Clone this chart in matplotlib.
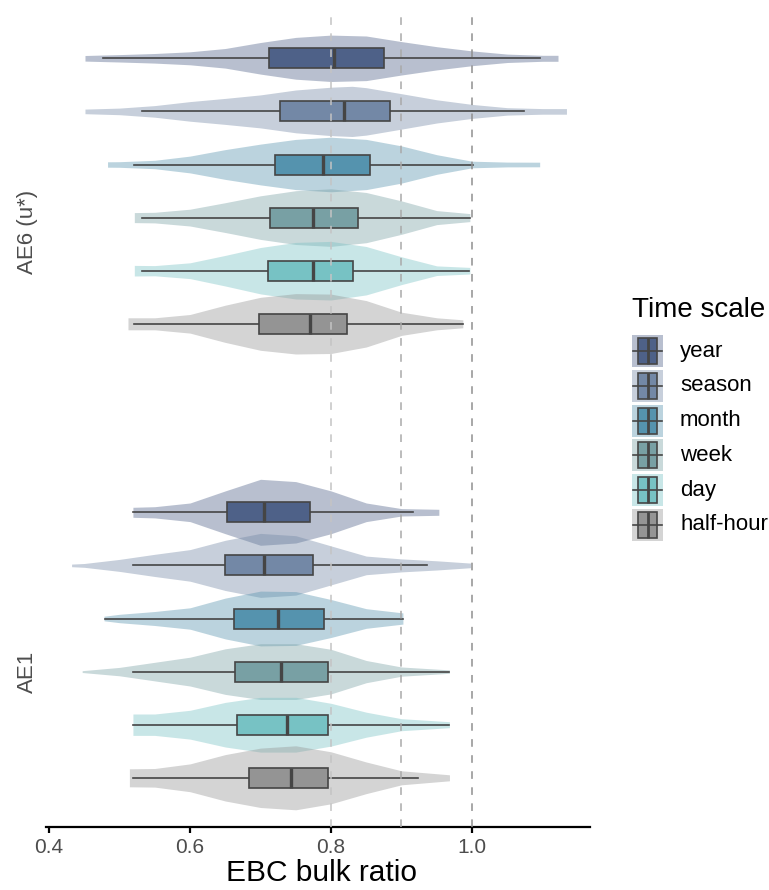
import numpy as np
import matplotlib
matplotlib.use('Agg')
import matplotlib.pyplot as plt
from matplotlib.patches import Rectangle

plt.rcParams['font.family'] = ['Liberation Sans', 'DejaVu Sans']

sites = ['AE6 (u*)', 'AE1']
scales = ['year', 'season', 'month', 'week', 'day', 'half-hour']
box_colors = ['#4e6188', '#7388a6', '#5593ae', '#78a0a4', '#77c2c4', '#949494']

# boxplot stats, one entry per time scale (year .. half-hour)
ae6_whisk_lo = [0.476, 0.532, 0.521, 0.532, 0.532, 0.521]
ae6_q1 = [0.712, 0.727, 0.720, 0.713, 0.710, 0.698]
ae6_median = [0.804, 0.818, 0.788, 0.774, 0.775, 0.770]
ae6_q3 = [0.875, 0.883, 0.855, 0.839, 0.831, 0.823]
ae6_whisk_hi = [1.096, 1.074, 1.001, 0.997, 0.996, 0.987]

ae1_whisk_lo = [0.519, 0.519, 0.479, 0.519, 0.519, 0.519]
ae1_q1 = [0.653, 0.650, 0.663, 0.664, 0.667, 0.684]
ae1_median = [0.705, 0.705, 0.725, 0.729, 0.738, 0.743]
ae1_q3 = [0.770, 0.774, 0.790, 0.796, 0.796, 0.796]
ae1_whisk_hi = [0.917, 0.936, 0.902, 0.968, 0.968, 0.924]

# violin outlines: value and half width (px)
ae6_violin_x = [
    [0.451, 0.50, 0.55, 0.60, 0.65, 0.70, 0.75, 0.80, 0.85, 0.90, 0.95, 1.00, 1.05, 1.10, 1.122],
    [0.451, 0.50, 0.55, 0.60, 0.65, 0.70, 0.75, 0.80, 0.83, 0.85, 0.90, 0.95, 1.00, 1.05, 1.10, 1.134],
    [0.483, 0.50, 0.55, 0.60, 0.65, 0.70, 0.75, 0.80, 0.85, 0.90, 0.95, 1.00, 1.05, 1.096],
    [0.521, 0.55, 0.60, 0.65, 0.70, 0.75, 0.80, 0.85, 0.90, 0.95, 0.997],
    [0.521, 0.55, 0.60, 0.65, 0.70, 0.75, 0.80, 0.85, 0.90, 0.95, 0.997],
    [0.512, 0.55, 0.60, 0.65, 0.70, 0.75, 0.80, 0.85, 0.90, 0.95, 0.987],
]
ae6_violin_w = [
    [2.8, 3.7, 4.8, 6.5, 9.8, 15.8, 20.9, 23.2, 22.3, 16.7, 11.6, 7.4, 4.2, 3.0, 3.0],
    [2.3, 3.3, 5.8, 9.8, 13, 16.5, 21.4, 24.2, 25.1, 23.7, 17.7, 11.6, 7, 3.7, 2.8, 2.8],
    [2.7, 2.8, 4.2, 8.4, 14.9, 20.4, 25.1, 27.3, 25.1, 18.6, 9.8, 3.3, 2.4, 2.3],
    [5, 5.3, 8.4, 14.9, 21.8, 26.9, 28.8, 25.1, 16.7, 7, 4],
    [5.3, 5.1, 7.9, 15.3, 23.2, 28.3, 29.3, 24.2, 13.9, 4.8, 3.3],
    [6, 6, 9.3, 18.6, 26.5, 30.2, 29.7, 23.2, 11.6, 6, 4],
]

ae1_violin_x = [
    [0.519, 0.55, 0.60, 0.65, 0.70, 0.75, 0.80, 0.85, 0.90, 0.953],
    [0.432, 0.45, 0.50, 0.55, 0.60, 0.65, 0.70, 0.75, 0.80, 0.85, 0.90, 0.95, 0.998],
    [0.478, 0.50, 0.55, 0.60, 0.65, 0.70, 0.75, 0.80, 0.85, 0.902],
    [0.447, 0.50, 0.55, 0.60, 0.65, 0.70, 0.75, 0.80, 0.85, 0.90, 0.968],
    [0.519, 0.55, 0.60, 0.65, 0.70, 0.75, 0.80, 0.85, 0.90, 0.968],
    [0.514, 0.55, 0.60, 0.65, 0.70, 0.75, 0.80, 0.85, 0.90, 0.968],
]
ae1_violin_w = [
    [5, 5.6, 9.3, 21.4, 33, 30.7, 21.4, 9.3, 3.7, 3],
    [1.3, 1.9, 6, 11.1, 15.8, 25.1, 32, 29.7, 19.5, 9.3, 6.5, 4.6, 2.3],
    [2.3, 4.2, 7, 10.7, 20.4, 27.4, 26.9, 19, 9.8, 5.6],
    [0.9, 4.2, 9.3, 14.4, 22.8, 27.9, 27.9, 22.3, 11.1, 4.6, 1.7],
    [10.7, 10.7, 14.4, 22.3, 27.4, 27.4, 21.4, 12.5, 6, 3],
    [9, 9.3, 13.9, 23.2, 29.7, 32, 26, 15.8, 7, 3],
]

ref_lines = [0.8, 0.9, 1.0]
ref_colors = ['#c4c4c4', '#a9a9a9', '#8f8f8f']
x_ticks = [0.4, 0.6, 0.8, 1.0]

# layout, in pixels of the 769x890 output
W, H = 769, 890
AX_L, AX_R, AX_T, AX_B = 46, 590, 14, 827
group_first_row = [58.3, 512.3]
row_step = 53.1
label_y = [232, 672]
box_half = 10.0


def draw_site(ax, first, wlo, q1, med, q3, whi, vx, vw):
    for i, col in enumerate(box_colors):
        yc = first + i * row_step
        x = np.array(vx[i])
        w = np.array(vw[i])
        ax.fill_between(x, yc - w, yc + w, color=col, alpha=0.4, lw=0, zorder=2)
        ax.plot([wlo[i], q1[i]], [yc, yc], color='#454545', lw=1.2, zorder=3)
        ax.plot([q3[i], whi[i]], [yc, yc], color='#454545', lw=1.2, zorder=3)
        ax.add_patch(Rectangle((q1[i], yc - box_half), q3[i] - q1[i], 2 * box_half,
                               facecolor=col, edgecolor='#454545', lw=1.2, zorder=3))
        ax.plot([med[i], med[i]], [yc - box_half, yc + box_half],
                color='#454545', lw=2.4, zorder=4, solid_capstyle='butt')


fig = plt.figure(figsize=(W / 100, H / 100), dpi=100)
ax = fig.add_axes([AX_L / W, 1 - AX_B / H, (AX_R - AX_L) / W, (AX_B - AX_T) / H])
ax.set_xlim(0.3957, 1.1674)
ax.set_ylim(AX_B, AX_T)

draw_site(ax, group_first_row[0], ae6_whisk_lo, ae6_q1, ae6_median, ae6_q3,
          ae6_whisk_hi, ae6_violin_x, ae6_violin_w)
draw_site(ax, group_first_row[1], ae1_whisk_lo, ae1_q1, ae1_median, ae1_q3,
          ae1_whisk_hi, ae1_violin_x, ae1_violin_w)

for xv, c in zip(ref_lines, ref_colors):
    ax.axvline(xv, color=c, lw=1.1, ls=(0, (5, 5.5)), zorder=5)

for s in ['top', 'right', 'left']:
    ax.spines[s].set_visible(False)
ax.spines['bottom'].set_linewidth(1.6)
ax.set_xticks(x_ticks)
ax.set_xticklabels(['%.1f' % t for t in x_ticks])
ax.tick_params(axis='x', length=4.3, width=1.6, pad=3.5, labelsize=15, labelcolor='#4d4d4d')
ax.set_yticks(label_y)
ax.set_yticklabels(sites, rotation=90, va='center')
ax.tick_params(axis='y', length=0, pad=6, labelsize=16, labelcolor='#4d4d4d')
ax.set_xlabel('EBC bulk ratio', fontsize=21.5)
ax.xaxis.label.set_va('baseline')
ax.xaxis.set_label_coords((322 - AX_L) / (AX_R - AX_L), (AX_B - 881) / (AX_B - AX_T))

# legend, drawn in figure pixels
lg = fig.add_axes([0, 0, 1, 1])
lg.set_xlim(0, W)
lg.set_ylim(H, 0)
lg.axis('off')
lg.text(632, 317, 'Time scale', fontsize=20, va='baseline', ha='left')
for i, (name, col) in enumerate(zip(scales, box_colors)):
    yc = 351 + i * 34.8
    lg.add_patch(Rectangle((632, yc - 16), 31, 32, facecolor=col, alpha=0.4, lw=0))
    lg.plot([633, 662], [yc, yc], color='#454545', lw=1.2)
    lg.add_patch(Rectangle((638, yc - 13), 19, 26, facecolor=col, edgecolor='#454545', lw=1.2))
    lg.plot([647.5, 647.5], [yc - 13, yc + 13], color='#454545', lw=2.0, solid_capstyle='butt')
    lg.text(680, yc, name, fontsize=16, va='center', ha='left')

fig.savefig('out.png', dpi=100)
